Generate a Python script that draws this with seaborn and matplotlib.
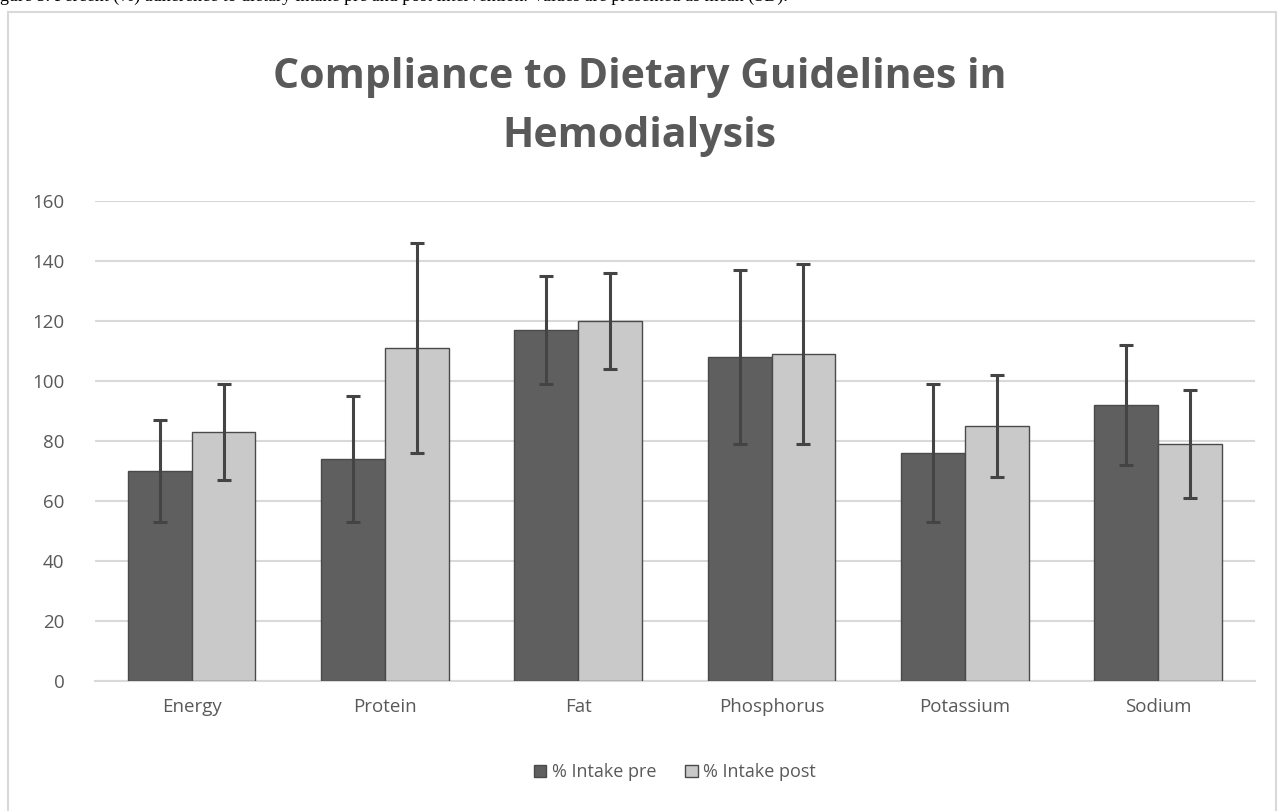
import pandas as pd
import seaborn as sns
import matplotlib.pyplot as plt
from matplotlib.patches import Rectangle

# values (mean and SD, % of guideline)
nutrients = ['Energy', 'Protein', 'Fat', 'Phosphorus', 'Potassium', 'Sodium']
intake_pre = [70, 74, 117, 108, 76, 92]
intake_post = [83, 111, 120, 109, 85, 79]
sd_pre = [17, 21, 18, 29, 23, 20]
sd_post = [16, 35, 16, 30, 17, 18]
series = ['% Intake pre', '% Intake post']
y_ticks = [0, 20, 40, 60, 80, 100, 120, 140, 160]

df = pd.DataFrame({
    'nutrient': nutrients * 2,
    'value': intake_pre + intake_post,
    'sd': sd_pre + sd_post,
    'series': [series[0]] * len(nutrients) + [series[1]] * len(nutrients),
})

sns.set_theme(style='white')
plt.rcParams['font.family'] = ['Open Sans', 'DejaVu Sans']
txt = '#595959'

fig = plt.figure(figsize=(12.79, 8.11), dpi=100)
ax = fig.add_axes([0.0743, 0.1603, 0.9067, 0.5919])

# light frame round the chart, like the Excel chart area
fig.patches.append(Rectangle((8 / 1279, -0.01), 1268 / 1279, 1 - 12 / 811 + 0.01,
                             transform=fig.transFigure, fill=False,
                             edgecolor='#d9d9d9', linewidth=1.5))

# caption of the source figure, cut off at the top edge as in the scan
fig.text(0.0, 1.0 - 1 / 811, 'gure 5. Percent (%) adherence to dietary intake pre and post '
         'intervention. Values are presented as mean (SD).',
         family=['Liberation Serif'], fontsize=13, color='black', va='baseline', ha='left')

sns.barplot(data=df, x='nutrient', y='value', hue='series', order=nutrients,
            hue_order=series, palette=['#5f5f5f', '#c9c9c9'], errorbar=None,
            width=0.66, gap=0.0, edgecolor='#4a4a4a', linewidth=1.0, ax=ax, zorder=3)

# error bars at the centre of each bar
for cont, sds, vals in zip(ax.containers, [sd_pre, sd_post], [intake_pre, intake_post]):
    xs = [p.get_x() + p.get_width() / 2 for p in cont.patches]
    ax.errorbar(xs, vals, yerr=sds, fmt='none', ecolor='#444444', elinewidth=2.2,
                capsize=5, capthick=2.2, zorder=4)

ax.set_ylim(0, 160)
ax.set_yticks(y_ticks)
ax.set_xlim(-0.5, len(nutrients) - 0.5)
ax.yaxis.grid(True, color='#d9d9d9', linewidth=1.5, zorder=0)
ax.set_axisbelow(True)
for s in ['top', 'right', 'left']:
    ax.spines[s].set_visible(False)
ax.spines['bottom'].set_color('#d9d9d9')
ax.spines['bottom'].set_linewidth(1.5)
ax.tick_params(axis='both', length=0, labelsize=13.5, colors=txt, pad=12)
ax.tick_params(axis='y', pad=22)
ax.set_xlabel('')
ax.set_ylabel('')

fig.text(0.5, 1 - 107 / 811, 'Compliance to Dietary Guidelines in\nHemodialysis',
         ha='center', va='center', fontsize=29.5, fontweight='bold', color=txt,
         linespacing=1.6)

ax.legend(loc='center', bbox_to_anchor=(0.5, -0.19), ncol=2, frameon=False,
          fontsize=13, labelcolor=txt, handlelength=0.7, handleheight=0.7,
          handletextpad=0.3, columnspacing=1.6)

fig.savefig('out.png', dpi=100)
